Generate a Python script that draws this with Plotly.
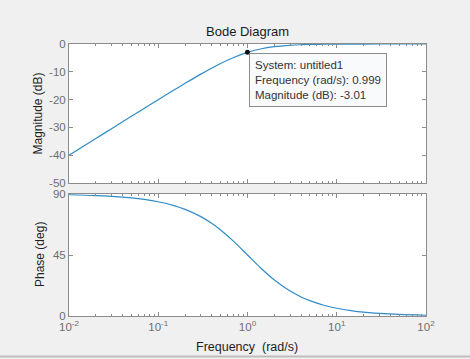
import plotly.graph_objects as go

freq = [0.01, 0.02, 0.03, 0.05, 0.07, 0.1, 0.15, 0.2, 0.3, 0.4, 0.5, 0.7, 1.0,
        1.4, 2.0, 3.0, 4.0, 5.0, 7.0, 10.0, 15.0, 20.0, 30.0, 50.0, 100.0]
mag_db = [-40.0, -33.98, -30.46, -26.03, -23.10, -20.04, -16.58, -14.15, -10.83, -8.60,
          -6.99, -4.84, -3.01, -1.79, -0.97, -0.46, -0.26, -0.17, -0.09, -0.04,
          -0.02, -0.01, 0.0, 0.0, 0.0]
phase_deg = [89.43, 88.85, 88.28, 87.14, 86.00, 84.29, 81.47, 78.69, 73.30, 68.20,
             63.43, 55.01, 45.0, 35.54, 26.57, 18.43, 14.04, 11.31, 8.13, 5.71,
             3.81, 2.86, 1.91, 1.15, 0.57]
tip_freq = [0.999]
tip_mag = [-3.01]

x_tickvals = [0.01, 0.1, 1, 10, 100]
x_ticktext = ["10<sup>-2</sup>", "10<sup>-1</sup>", "10<sup>0</sup>", "10<sup>1</sup>", "10<sup>2</sup>"]
minor_vals = [m * d for d in [0.01, 0.1, 1, 10] for m in range(2, 10)]
mag_ticks = [0, -10, -20, -30, -40, -50]
phase_ticks = [0, 45, 90]

W, H = 470, 359
FONT = "Liberation Sans, Arial"
line_color = "#2f8cc6"
axis_color = "#8c8c8c"
tick_font = dict(family=FONT, size=11.5, color="#6e6e6e")

fig = go.Figure()
fig.add_trace(go.Scatter(x=freq, y=mag_db, mode="lines", line=dict(color=line_color, width=1.2, shape="spline"),
                         xaxis="x", yaxis="y", showlegend=False, hoverinfo="skip"))
fig.add_trace(go.Scatter(x=freq, y=phase_deg, mode="lines", line=dict(color=line_color, width=1.2, shape="spline"),
                         xaxis="x2", yaxis="y2", showlegend=False, hoverinfo="skip"))
fig.add_trace(go.Scatter(x=tip_freq, y=tip_mag, mode="markers", marker=dict(color="#111111", size=5),
                         xaxis="x", yaxis="y", showlegend=False, hoverinfo="skip"))

xdom = [69 / W, 426 / W]
top_dom = [1 - 183 / H, 1 - 44 / H]
bot_dom = [1 - 316 / H, 1 - 194 / H]
common_x = dict(type="log", range=[-2, 2], domain=xdom, showline=True, linecolor=axis_color, linewidth=1,
                mirror="ticks", ticks="inside", ticklen=4, tickcolor=axis_color, tickvals=x_tickvals,
                ticktext=x_ticktext, showgrid=False, zeroline=False, automargin=False,
                minor=dict(ticks="inside", ticklen=2, tickcolor=axis_color, showgrid=False, tickvals=minor_vals))
common_y = dict(showline=True, linecolor=axis_color, mirror="ticks", ticks="inside", ticklen=4,
                tickcolor=axis_color, tickfont=tick_font, showgrid=False, zeroline=False,
                automargin=False)
fig.update_layout(
    width=W, height=H, margin=dict(l=0, r=0, t=0, b=0, autoexpand=False),
    paper_bgcolor="#f0f0f0", plot_bgcolor="#ffffff",
    font=dict(family=FONT, size=11, color="#262626"),
    xaxis=dict(**common_x, anchor="y", showticklabels=False),
    yaxis=dict(**common_y, domain=top_dom, range=[-50, 0], anchor="x",
               tickvals=mag_ticks, ticktext=[str(v) for v in mag_ticks]),
    xaxis2=dict(**common_x, anchor="y2", tickfont=tick_font),
    yaxis2=dict(**common_y, domain=bot_dom, range=[0, 90], anchor="x2",
                tickvals=phase_ticks, ticktext=[str(v) for v in phase_ticks]),
)

title_font = dict(family=FONT, size=12, color="#1f1f1f")
fig.add_annotation(xref="paper", yref="paper", x=(69 + 426) / 2 / W, y=1 - 31 / H, xanchor="center",
                   yanchor="middle", showarrow=False, text="Bode Diagram",
                   font=dict(family=FONT, size=13, color="#1a1a1a"))
fig.add_annotation(xref="paper", yref="paper", x=37 / W, y=sum(top_dom) / 2, xanchor="center",
                   yanchor="middle", showarrow=False, text="Magnitude (dB)", textangle=-90, font=title_font)
fig.add_annotation(xref="paper", yref="paper", x=40 / W, y=sum(bot_dom) / 2, xanchor="center",
                   yanchor="middle", showarrow=False, text="Phase (deg)", textangle=-90, font=title_font)
fig.add_annotation(xref="paper", yref="paper", x=(69 + 426) / 2 / W, y=1 - 347 / H, xanchor="center",
                   yanchor="middle", showarrow=False, text="Frequency\u00a0 (rad/s)",
                   font=dict(family=FONT, size=12.5, color="#1f1f1f"))

fig.add_annotation(
    xref="paper", yref="paper", x=249 / W, y=1 - 53 / H, xanchor="left", yanchor="top",
    showarrow=False, align="left",
    text="System: untitled1<br>Frequency (rad/s): 0.999<br>Magnitude (dB): -3.01",
    font=dict(family=FONT, size=11.5, color="#333333"),
    bgcolor="#f9fafc", bordercolor="#8c8c8c", borderwidth=1, borderpad=5,
)

fig.add_shape(type="line", xref="paper", yref="paper", x0=0, x1=1, y0=2.5 / H, y1=2.5 / H,
              line=dict(color="#bdbdbd", width=2))

fig.write_html("out.html", config={"displayModeBar": False},
               post_script="document.body.style.margin='0';document.body.style.padding='0';")
